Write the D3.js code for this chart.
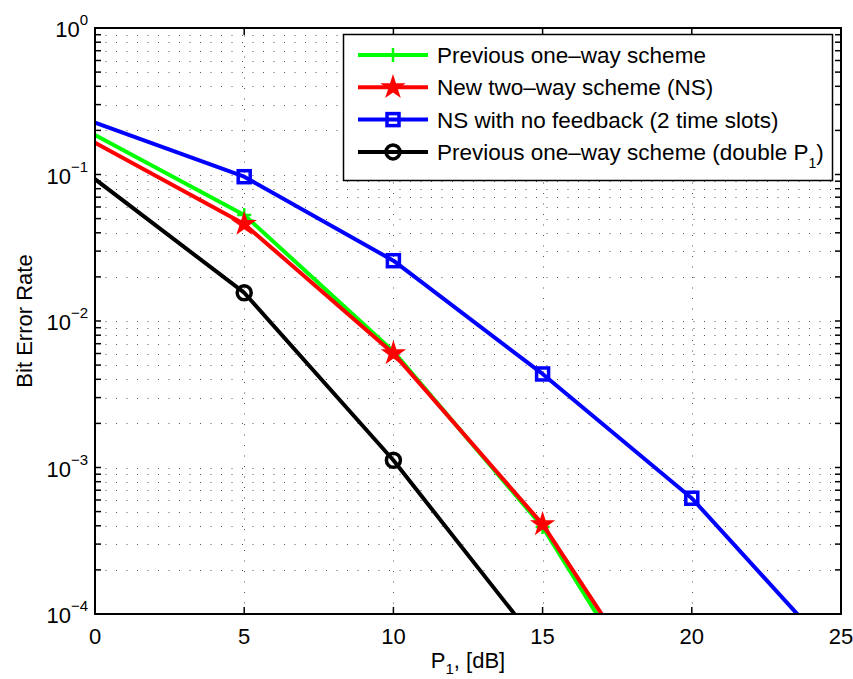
<!DOCTYPE html>
<html>
<head>
<meta charset="utf-8">
<script src="https://cdn.jsdelivr.net/npm/d3@7"></script>
<style>
  body { margin: 0; background: #fff; }
  svg { display: block; font-family: "Liberation Sans", Arial, sans-serif; }
</style>
</head>
<body>
<svg id="chart" width="853" height="679"></svg>
<script>
// values (P1 in dB, BER)
const powerDb = [0, 5, 10, 15, 20, 25];
const previousOneWay = [0.186, 0.053, 0.0062, 3.93e-4, 9.0e-6];
const newTwoWay = [0.165, 0.0459, 0.00601, 4.09e-4, 1.16e-5];
const noFeedback = [0.226, 0.0966, 0.0258, 0.00435, 6.17e-4, 4.7e-5];
const doubleP1 = [0.093, 0.0156, 0.00112, 5.7e-5];

const xTicks = [0, 5, 10, 15, 20, 25];
const yDecades = [0, -1, -2, -3, -4];

const series = [
  { name: 'Previous one\u2013way scheme', values: previousOneWay, color: '#00ff00', marker: 'plus' },
  { name: 'New two\u2013way scheme (NS)', values: newTwoWay, color: '#ff0000', marker: 'star' },
  { name: 'NS with no feedback (2 time slots)', values: noFeedback, color: '#0000ff', marker: 'square' },
  { name: 'Previous one\u2013way scheme (double P', sub: '1', tail: ')', values: doubleP1, color: '#000000', marker: 'circle' }
];

const svg = d3.select('#chart');
const margin = { top: 28, right: 12, bottom: 65, left: 95 };
const width = 853, height = 679;
const x0 = margin.left, x1 = width - margin.right;
const y0 = margin.top, y1 = height - margin.bottom;

const x = d3.scaleLinear().domain([0, 25]).range([x0, x1]);
const y = d3.scaleLog().domain([1e-4, 1]).range([y1, y0]);

svg.append('defs').append('clipPath').attr('id', 'plot-clip')
  .append('rect').attr('x', x0).attr('y', y0).attr('width', x1 - x0).attr('height', y1 - y0);

// grid
const minorVals = [];
for (let e = -4; e < 0; e++) {
  for (let m = 1; m <= 9; m++) minorVals.push(m * Math.pow(10, e));
}
minorVals.push(1);

const grid = svg.append('g').attr('class', 'grid')
  .attr('stroke', '#555').attr('stroke-width', 1).attr('stroke-dasharray', '1,9.5');
grid.selectAll('.hgrid').data(minorVals.filter(v => v > 1e-4 && v < 1)).enter()
  .append('line')
  .attr('x1', x0).attr('x2', x1)
  .attr('y1', d => Math.round(y(d)) + 0.5).attr('y2', d => Math.round(y(d)) + 0.5);
grid.selectAll('.vgrid').data(xTicks.filter(t => t > 0 && t < 25)).enter()
  .append('line')
  .attr('x1', d => Math.round(x(d)) + 0.5).attr('x2', d => Math.round(x(d)) + 0.5)
  .attr('y1', y1).attr('y2', y0);

// lines
const line = d3.line().x((d, i) => x(powerDb[i])).y(d => y(d));
const plot = svg.append('g').attr('clip-path', 'url(#plot-clip)');

plot.selectAll('.series').data(series).enter()
  .append('path')
  .attr('d', d => line(d.values))
  .attr('fill', 'none')
  .attr('stroke', d => d.color)
  .attr('stroke-width', 4)
  .attr('stroke-linejoin', 'round');

const star = d3.symbol().type(d3.symbolStar).size(200);

function drawMarker(g, type, color) {
  if (type === 'plus') {
    g.append('path').attr('d', 'M-7,0H7M0,-7V7')
      .attr('stroke', color).attr('stroke-width', 2.5).attr('fill', 'none');
  } else if (type === 'star') {
    g.append('path').attr('d', star()).attr('fill', color);
  } else if (type === 'square') {
    g.append('rect').attr('x', -6).attr('y', -6).attr('width', 12).attr('height', 12)
      .attr('fill', 'none').attr('stroke', color).attr('stroke-width', 3.5);
  } else if (type === 'circle') {
    g.append('circle').attr('r', 7)
      .attr('fill', 'none').attr('stroke', color).attr('stroke-width', 3.5);
  }
}

series.forEach(s => {
  s.values.forEach((v, i) => {
    if (powerDb[i] <= 0 || v < 1e-4) return;
    const g = plot.append('g').attr('transform', `translate(${x(powerDb[i])},${y(v)})`);
    drawMarker(g, s.marker, s.color);
  });
});

// frame and ticks
const axes = svg.append('g').attr('stroke', '#000');
axes.append('rect').attr('x', x0).attr('y', y0).attr('width', x1 - x0).attr('height', y1 - y0)
  .attr('fill', 'none').attr('stroke-width', 2);

const tickLen = 7;
xTicks.filter(t => t > 0 && t < 25).forEach(t => {
  axes.append('line').attr('x1', x(t)).attr('x2', x(t)).attr('y1', y1).attr('y2', y1 - tickLen).attr('stroke-width', 1.5);
  axes.append('line').attr('x1', x(t)).attr('x2', x(t)).attr('y1', y0).attr('y2', y0 + tickLen).attr('stroke-width', 1.5);
});
minorVals.filter(v => v > 1e-4 && v < 1).forEach(v => {
  axes.append('line').attr('x1', x0).attr('x2', x0 + 6).attr('y1', y(v)).attr('y2', y(v)).attr('stroke-width', 1.5);
  axes.append('line').attr('x1', x1).attr('x2', x1 - 6).attr('y1', y(v)).attr('y2', y(v)).attr('stroke-width', 1.5);
});

// tick labels
svg.append('g').selectAll('text').data(xTicks).enter()
  .append('text')
  .attr('x', d => x(d)).attr('y', y1 + 30)
  .attr('text-anchor', 'middle')
  .style('font-size', '22px')
  .text(d => d);

const yLabels = svg.append('g');
yDecades.forEach(e => {
  const t = yLabels.append('text')
    .attr('x', x0 - 7).attr('y', y(Math.pow(10, e)) + 9)
    .attr('text-anchor', 'end')
    .style('font-size', '22px');
  t.append('tspan').text('10');
  t.append('tspan').attr('dy', -12).style('font-size', '15px')
    .text(e === 0 ? '0' : '\u2212' + Math.abs(e));
});

// axis titles
const xTitle = svg.append('text')
  .attr('x', (x0 + x1) / 2).attr('y', 668)
  .attr('text-anchor', 'middle')
  .style('font-size', '22px');
xTitle.append('tspan').text('P');
xTitle.append('tspan').attr('dy', 6).style('font-size', '15px').text('1');
xTitle.append('tspan').attr('dy', -6).text(', [dB]');

svg.append('text')
  .attr('transform', `translate(32,${(y0 + y1) / 2}) rotate(-90)`)
  .attr('text-anchor', 'middle')
  .style('font-size', '22px')
  .text('Bit Error Rate');

// legend
const legend = svg.append('g');
legend.append('rect')
  .attr('x', 343.5).attr('y', 34.5).attr('width', 489).attr('height', 146)
  .attr('fill', '#fff').attr('stroke', '#000').attr('stroke-width', 1.5);

series.forEach((s, i) => {
  const cy = 55 + i * 32.3;
  legend.append('line')
    .attr('x1', 358).attr('x2', 428).attr('y1', cy).attr('y2', cy)
    .attr('stroke', s.color).attr('stroke-width', 4);
  const g = legend.append('g').attr('transform', `translate(393,${cy})`);
  drawMarker(g, s.marker, s.color);
  const t = legend.append('text')
    .attr('x', 437).attr('y', cy + 8)
    .style('font-size', '22.5px');
  t.append('tspan').text(s.name);
  if (s.sub) {
    t.append('tspan').attr('dy', 8).style('font-size', '14px').text(s.sub);
    t.append('tspan').attr('dy', -8).text(s.tail);
  }
});
</script>
</body>
</html>
